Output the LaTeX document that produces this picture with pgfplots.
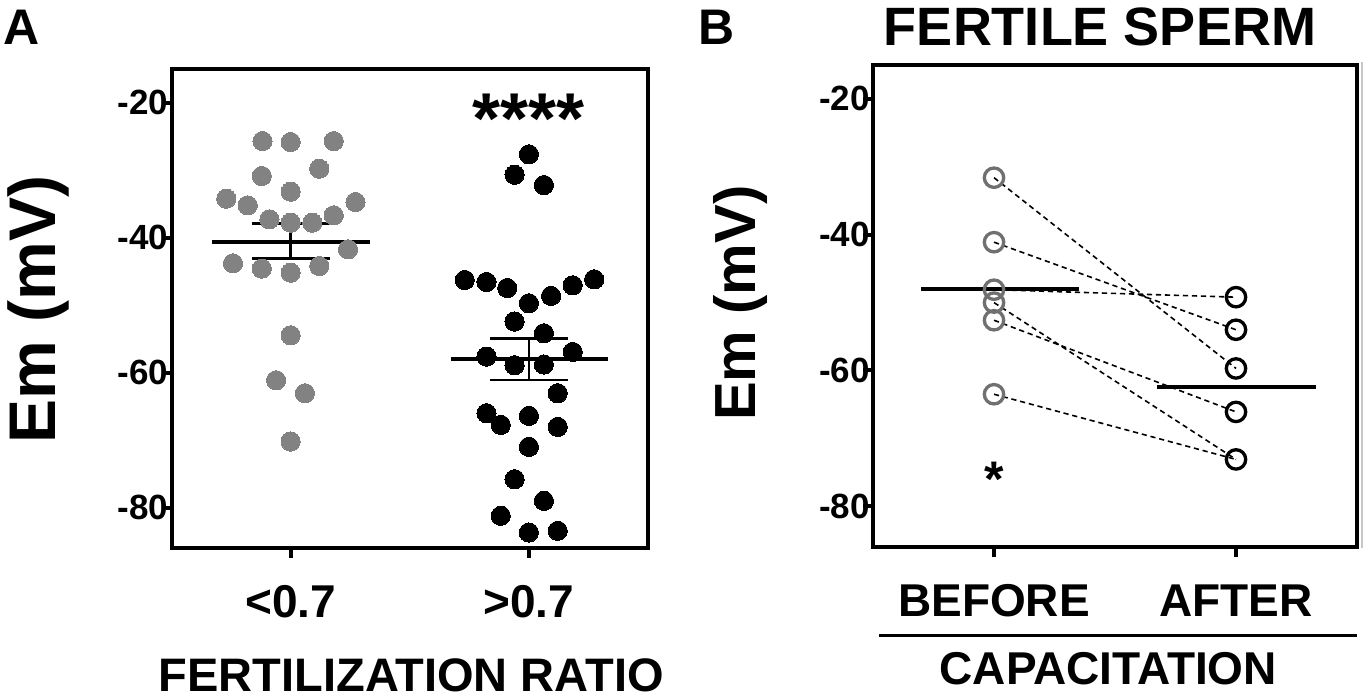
\documentclass[border=0pt]{standalone}
\usepackage{fontspec}
\setmainfont{Liberation Sans}
\usepackage{pgfplots}
\pgfplotsset{compat=1.18}
\newcommand{\fs}[1]{\fontsize{#1}{#1}\selectfont\bfseries}
\definecolor{dotgray}{RGB}{130,130,130}
\definecolor{circgray}{RGB}{112,112,112}
\begin{document}
\begin{tikzpicture}
\useasboundingbox (0,0) rectangle (684pt,349.5pt);
\pgfplotsset{
  myaxis/.style={
    scale only axis, axis line style={line width=2pt},
    xmin=0.5, xmax=2.5, ymin=-86, ymax=-15,
    xtick={1,2}, ytick={-80,-60,-40,-20}, yticklabels={-80,-60,-40,-20},
    xtick pos=bottom, ytick pos=left, tick align=outside,
    major tick length=5pt, tick style={line width=2pt, black},
    yticklabel style={font=\fs{17.5pt}, anchor=east, inner sep=0pt, xshift=3.5pt},
    xticklabel style={font=\fs{23pt}, anchor=north, inner sep=0pt, yshift=-13.5pt},
    label style={inner sep=0pt, anchor=center},
    clip=false,
  }
}
% ---------------- Panel A ----------------
\begin{axis}[myaxis, at={(85.75pt,75.5pt)}, anchor=south west,
  width=238.25pt, height=239.5pt,
  xticklabels={{<0.7},{>0.7}},
  xlabel={FERTILIZATION RATIO},
  xlabel style={font=\fs{23.5pt}, at={(axis description cs:0.503,-0.265)}},
  ylabel={Em (mV)},
  ylabel style={font=\fs{33pt}, at={(axis description cs:-0.279,0.498)}},
]
\addplot[line width=2pt] coordinates {(0.668,-40.59) (1.332,-40.59)};
\addplot[line width=1.2pt] coordinates {(1,-37.88) (1,-43.11)};
\addplot[line width=1.2pt] coordinates {(0.836,-37.88) (1.164,-37.88)};
\addplot[line width=1.2pt] coordinates {(0.836,-43.11) (1.164,-43.11)};
\addplot[line width=2pt] coordinates {(1.673,-58.02) (2.334,-58.02)};
\addplot[line width=1.2pt] coordinates {(2,-54.96) (2,-61.09)};
\addplot[line width=1.2pt] coordinates {(1.836,-54.96) (2.164,-54.96)};
\addplot[line width=1.2pt] coordinates {(1.836,-61.09) (2.164,-61.09)};
\addplot[only marks, mark=*, mark size=4.8pt, color=dotgray, mark options={draw=dotgray, fill=dotgray, line width=0pt}] coordinates {
(0.882,-25.68) (1,-25.83) (1.181,-25.68) (1.120,-29.78) (0.879,-30.86)
(1,-33.19) (0.730,-34.22) (0.820,-35.21) (1.272,-34.72) (0.911,-37.28)
(1,-37.78) (1.091,-37.78) (1.181,-36.69) (1.241,-41.73) (0.758,-43.80)
(0.879,-44.59) (1,-45.19) (1.120,-44.20) (1,-54.47) (0.939,-61.14)
(1.060,-63.06) (1,-70.22)};
\addplot[only marks, mark=*, mark size=4.8pt, color=black, mark options={draw=black, fill=black, line width=0pt}] coordinates {
(2,-27.65) (1.940,-30.67) (2.063,-32.20) (1.731,-46.27) (1.822,-46.57)
(1.909,-47.46) (2.184,-47.06) (2.274,-46.17) (2.093,-48.64) (2,-49.73)
(1.940,-52.44) (2.063,-54.17) (1.822,-57.63) (2.184,-56.94) (1.940,-58.91)
(2.063,-58.81) (2.121,-63.06) (1.822,-66.02) (1.882,-67.75) (2,-66.42)
(2.121,-68.05) (2,-71.01) (1.940,-75.80) (2.063,-79.01) (1.882,-81.23)
(2,-83.70) (2.121,-83.46)};
\node[font=\fs{36pt}, anchor=north, inner sep=0pt] at (axis cs:2,-18.7) {****};
\end{axis}
% ---------------- Panel B ----------------
\begin{axis}[myaxis, at={(436.5pt,76pt)}, anchor=south west,
  width=242pt, height=241pt,
  xticklabels={BEFORE,AFTER},
  xlabel={CAPACITATION},
  xlabel style={font=\fs{23pt}, at={(axis description cs:0.486,-0.253)}},
  ylabel={Em (mV)},
  ylabel style={font=\fs{29pt}, at={(axis description cs:-0.273,0.506)}},
  title={FERTILE SPERM},
  title style={font=\fs{27pt}, inner sep=0pt, anchor=center, at={(axis description cs:0.469,1.054)}},
]
\addplot[black, line width=0.8pt, dash pattern=on 2.6pt off 1.9pt] coordinates {(1,-31.6) (2,-59.7)};
\addplot[black, line width=0.8pt, dash pattern=on 2.6pt off 1.9pt] coordinates {(1,-41.1) (2,-54.0)};
\addplot[black, line width=0.8pt, dash pattern=on 2.6pt off 1.9pt] coordinates {(1,-48.1) (2,-49.2)};
\addplot[black, line width=0.8pt, dash pattern=on 2.6pt off 1.9pt] coordinates {(1,-50.0) (2,-73.1)};
\addplot[black, line width=0.8pt, dash pattern=on 2.6pt off 1.9pt] coordinates {(1,-52.6) (2,-66.1)};
\addplot[black, line width=0.8pt, dash pattern=on 2.6pt off 1.9pt] coordinates {(1,-63.5) (2,-73.1)};
\addplot[only marks, mark=o, mark size=4.85pt, color=circgray, mark options={solid, line width=1.65pt}] coordinates {
(1,-31.6) (1,-41.1) (1,-48.1) (1,-50.0) (1,-52.6) (1,-63.5)};
\addplot[only marks, mark=o, mark size=4.85pt, color=black, mark options={solid, line width=1.65pt}] coordinates {
(2,-49.2) (2,-54.0) (2,-59.7) (2,-66.1) (2,-73.1)};
\addplot[line width=2pt] coordinates {(0.70,-48.0) (1.352,-48.0)};
\addplot[line width=2pt] coordinates {(1.672,-62.5) (2.329,-62.5)};
\node[font=\fs{25pt}, anchor=north, inner sep=0pt] at (axis cs:1,-73.5) {*};
\draw[line width=1.7pt] (axis description cs:0.012,-0.183) -- (axis description cs:1.0,-0.183);
\end{axis}
\node[font=\fs{25pt}, inner sep=0pt] at (11pt,335.75pt) {A};
\node[font=\fs{25pt}, inner sep=0pt] at (358.5pt,335.75pt) {B};
\draw[black!22, line width=1pt] (681pt,318.5pt) -- (681pt,75.5pt);
\end{tikzpicture}
\end{document}
